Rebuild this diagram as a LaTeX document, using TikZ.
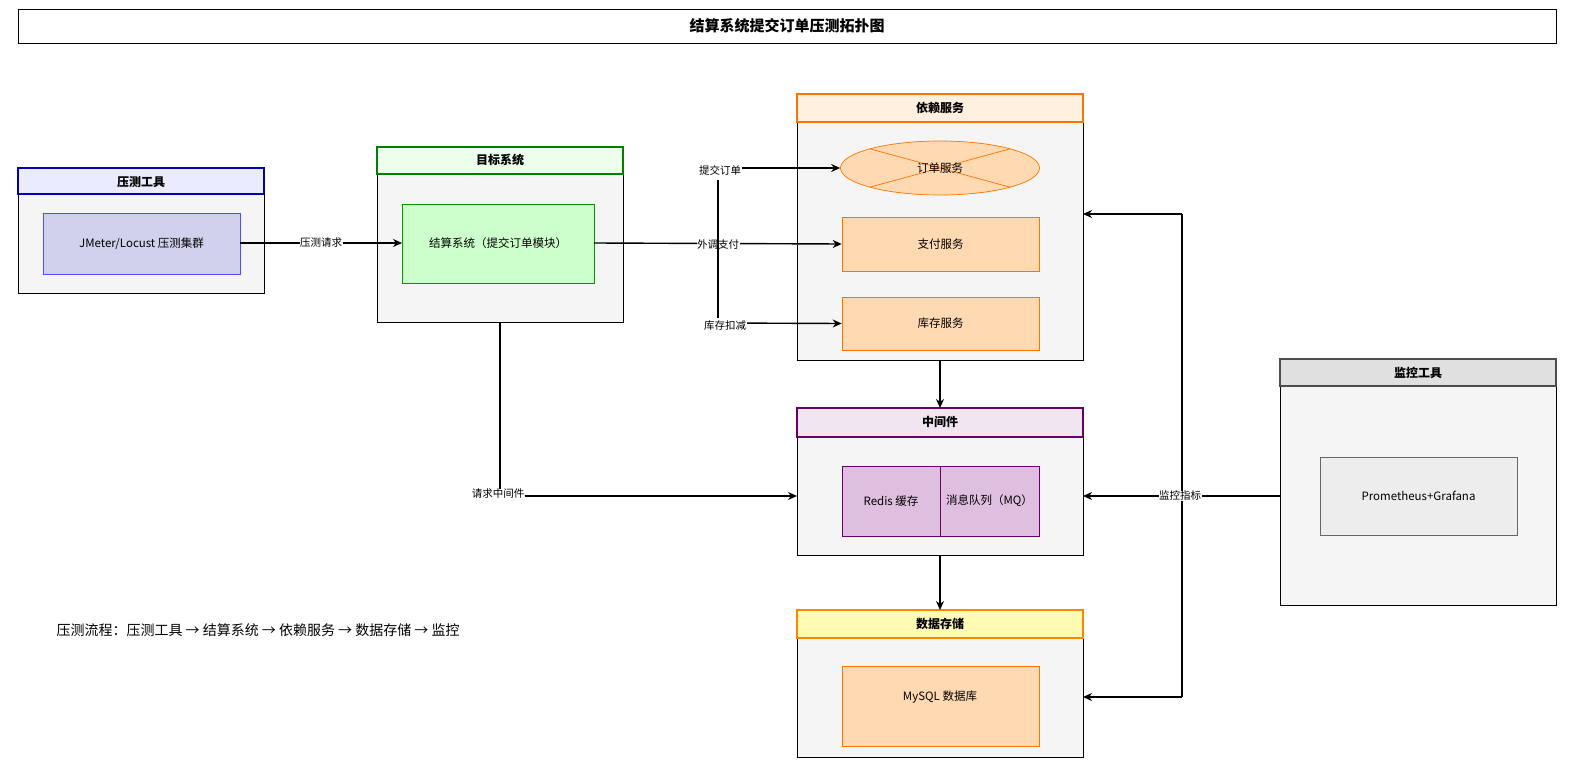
\documentclass[tikz,border=0pt]{standalone}
\usepackage{fontspec}
\setmainfont{Noto Sans CJK SC}
\usetikzlibrary{shapes.geometric,arrows.meta}
\definecolor{bodyf}{HTML}{F5F5F5}
\begin{document}
\begin{tikzpicture}[x=1pt,y=-1pt,
  hdr/.style={draw=#1,line width=1.2pt,minimum height=0pt,font=\bfseries\fontsize{12}{12}\selectfont},
  body/.style={draw=black,fill=bodyf,line width=0.8pt},
  inner/.style={line width=0.7pt,font=\fontsize{11.5}{12}\selectfont},
  arr/.style={-{Stealth[length=9pt,width=8pt]},line width=1.4pt},
  ln/.style={line width=1.4pt},
  lab/.style={fill=white,inner sep=0.5pt,font=\fontsize{10.5}{11}\selectfont}]
\useasboundingbox (0,0) rectangle (1590,781);
\fill[white] (0,0) rectangle (1590,781);
% title
\draw[line width=0.8pt] (18,9) rectangle (1556,43);
\node[font=\bfseries\fontsize{15}{16}\selectfont] (title) at (787,26) {结算系统提交订单压测拓扑图};
% 压测工具
\draw[body] (18,194) rectangle (264,293);
\draw[hdr=blue!70!black,fill=blue!8] (18,168) rectangle (264,194);
\node[font=\bfseries\fontsize{12}{12}\selectfont] (h1) at (141,182) {压测工具};
\draw[inner,draw=blue!70,fill=cyan!25!blue!18] (43,213) rectangle (240,274);
\node[inner] (jm) at (141.5,243.5) {JMeter/Locust 压测集群};
\coordinate (jmE) at (240,243);
% 目标系统
\draw[body] (377,174) rectangle (623,322);
\draw[hdr=green!50!black,fill=green!8] (377,147) rectangle (623,174);
\node[font=\bfseries\fontsize{12}{12}\selectfont] (h2) at (500,160) {目标系统};
\draw[inner,draw=green!60!black,fill=green!20] (402,204) rectangle (594,283);
\node[inner] (ts) at (498,243.5) {结算系统（提交订单模块）};
\coordinate (tsW) at (402,243); \coordinate (tsE) at (594,243);
\coordinate (tsB) at (500,322);
% 依赖服务
\draw[body] (797,122) rectangle (1083,360);
\draw[hdr=orange!90!red,fill=orange!12] (797,94) rectangle (1083,122);
\node[font=\bfseries\fontsize{12}{12}\selectfont] (h3) at (940,108) {依赖服务};
\node[ellipse,draw=orange!90!red,fill=orange!30,line width=0.7pt,minimum width=199pt,minimum height=54pt,inner sep=0pt] (os) at (940,168) {};
\draw[orange!90!red,line width=0.7pt] (os.north west) -- (os.south east) (os.north east) -- (os.south west);
\node[inner] at (940,168) {订单服务};
\node[inner,draw=orange!90!red,fill=orange!30,minimum width=197pt,minimum height=54pt] (pay) at (940.5,244) {支付服务};
\node[inner,draw=orange!90!red,fill=orange!30,minimum width=197pt,minimum height=53pt] (inv) at (940.5,323.5) {库存服务};
% 中间件
\draw[body] (797,437) rectangle (1083,555);
\draw[hdr=violet!80!black,fill=violet!10] (797,408) rectangle (1083,437);
\node[font=\bfseries\fontsize{12}{12}\selectfont] (h4) at (940,422) {中间件};
\draw[inner,draw=violet!80!black,fill=violet!25] (842,466) rectangle (940,536);
\draw[inner,draw=violet!80!black,fill=violet!25] (940,466) rectangle (1039,536);
\node[inner] (redis) at (891,501) {Redis 缓存};
\node[inner] (mq) at (989.5,501) {消息队列（MQ）};
% 数据存储
\draw[body] (797,638) rectangle (1083,757);
\draw[hdr=orange!95!yellow,fill=yellow!30] (797,610) rectangle (1083,638);
\node[font=\bfseries\fontsize{12}{12}\selectfont] (h5) at (940,624) {数据存储};
\node[cylinder,shape border rotate=90,aspect=0.28,draw=orange!90!red,fill=orange!30,line width=0.7pt,minimum width=197pt,minimum height=80pt,inner sep=0pt] (db) at (940.5,707) {};
\node[inner] at (940,697) {MySQL 数据库};
% 监控工具
\draw[body] (1280,386) rectangle (1556,605);
\draw[hdr=black!70,fill=black!12] (1280,359) rectangle (1556,386);
\node[font=\bfseries\fontsize{12}{12}\selectfont] (h6) at (1418,373) {监控工具};
\draw[inner,draw=black!60,fill=black!7] (1320,457) rectangle (1517,535);
\node[inner] (prom) at (1418.5,496) {Prometheus+Grafana};
% connectors
\draw[arr] (jmE) -- node[lab]{压测请求} (tsW);
\coordinate (bx) at (718,243);
\draw[arr] (tsE) -- (pay.west);
\node[lab] at (718,245) {外调支付};
\draw[ln] (718,180) -- (718,318);
\draw[arr] (718,168) -- (os.west);
\node[lab] at (720,170) {提交订单};
\draw[arr] (718,323) -- (inv.west);
\node[lab] at (725,326) {库存扣减};
\draw[arr] (tsB) -- (500,496) -- (797,496);
\node[lab] at (498,494) {请求中间件};
\draw[arr] (940,360) -- (940,408);
\draw[arr] (940,555) -- (940,610);
\draw[arr] (1280,496) -- (1083,496);
\draw[ln] (1182,214) -- (1182,697);
\draw[arr] (1182,214) -- (1083,214);
\draw[arr] (1182,697) -- (1083,697);
\node[lab] at (1180,496) {监控指标};
% footnote
\node[anchor=west,font=\fontsize{14}{15}\selectfont] (foot) at (53,630) {压测流程：压测工具 → 结算系统 → 依赖服务 → 数据存储 → 监控};
\end{tikzpicture}
\end{document}
